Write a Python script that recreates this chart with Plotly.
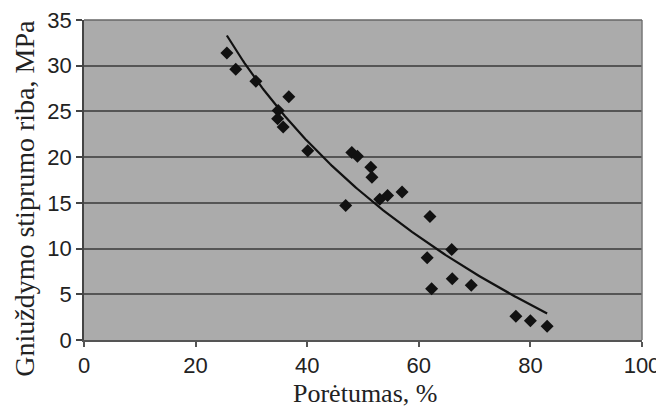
import numpy as np
import plotly.graph_objects as go

# Data
porosity = [25.6, 27.2, 30.8, 36.7, 34.8, 34.7, 35.7, 40.1, 48.0, 49.0, 51.4, 51.6,
            46.9, 53.0, 54.4, 57.0, 62.0, 65.9, 61.5, 66.0, 62.3, 69.4, 77.4, 80.0, 83.0]
strength = [31.4, 29.6, 28.3, 26.6, 25.1, 24.2, 23.3, 20.7, 20.5, 20.1, 18.9, 17.8,
            14.7, 15.4, 15.8, 16.2, 13.5, 9.9, 9.0, 6.7, 5.6, 6.0, 2.6, 2.1, 1.5]
x_ticks = [0, 20, 40, 60, 80, 100]
y_ticks = [0, 5, 10, 15, 20, 25, 30, 35]
x_title = "Porėtumas, %"
y_title = "Gniuždymo stiprumo riba, MPa"

# Logarithmic trendline fitted to the data (as a spreadsheet trendline would be)
xa = np.array(porosity)
ya = np.array(strength)
b, a = np.polyfit(np.log(xa), ya, 1)
xt = np.linspace(xa.min(), xa.max(), 200)
yt = a + b * np.log(xt)

fig = go.Figure()
fig.add_trace(go.Scatter(x=xt, y=yt, mode="lines",
                         line=dict(color="#111111", width=2.2), hoverinfo="skip"))
fig.add_trace(go.Scatter(x=porosity, y=strength, mode="markers",
                         marker=dict(symbol="diamond", size=10, color="#111111")))

serif = "Liberation Serif, Times New Roman, serif"
sans = "Liberation Sans, Arial, sans-serif"

# page body adds an 8px margin, so the figure is sized to fit the window
fig.update_layout(
    width=656, height=400,
    margin=dict(l=76, r=22, t=12, b=68),
    paper_bgcolor="white",
    plot_bgcolor="#ababab",
    showlegend=False,
    font=dict(family=sans, color="#222222"),
    annotations=[
        dict(text=x_title, xref="paper", yref="paper", x=0.504, y=-0.166,
             xanchor="center", yanchor="middle", showarrow=False,
             font=dict(size=26, family=serif, color="#222222")),
        dict(text=y_title, xref="paper", yref="paper", x=-0.106, y=0.444,
             xanchor="center", yanchor="middle", showarrow=False, textangle=-90,
             font=dict(size=28, family=serif, color="#222222")),
    ],
)
fig.update_xaxes(
    range=[0, 100], tickvals=x_ticks, showgrid=False, zeroline=False, automargin=False,
    showline=True, linecolor="#555555", linewidth=2, ticklabeloverflow="allow",
    ticks="outside", ticklen=5, tickcolor="#555555", tickwidth=1.5,
    tickfont=dict(size=22, family=sans, color="#222222"),
)
fig.update_yaxes(
    range=[0, 35], tickvals=y_ticks, showgrid=True, gridcolor="#555555", gridwidth=1.5,
    zeroline=False, showline=True, linecolor="#444444", linewidth=1.5, automargin=False,
    ticklabeloverflow="allow",
    ticks="outside", ticklen=6, tickcolor="#444444", tickwidth=1.5,
    tickfont=dict(size=22, family=sans, color="#222222"),
)
fig.add_shape(type="line", xref="paper", yref="paper", x0=1, x1=1, y0=0, y1=1,
              line=dict(color="#777777", width=1.5))
fig.add_shape(type="line", xref="paper", yref="paper", x0=0, x1=1, y0=1, y1=1,
              line=dict(color="#666666", width=1.5))

fig.write_html("out.html")
